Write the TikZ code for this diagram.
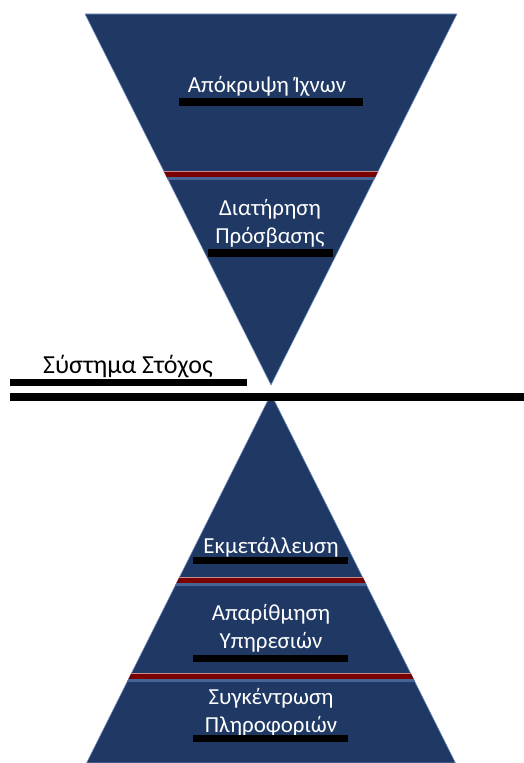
\documentclass[tikz,border=0pt]{standalone}
\usepackage{fontspec}
\setmainfont{Carlito}
\usetikzlibrary{positioning}

\definecolor{navy}{RGB}{31,56,100}
\definecolor{navyedge}{RGB}{120,150,200}
\definecolor{barred}{RGB}{122,0,0}
\definecolor{barpink}{RGB}{200,140,140}
\definecolor{stripblue}{RGB}{70,100,150}

\begin{document}
\begin{tikzpicture}[x=0.75pt, y=-0.75pt,
    funnel/.style={fill=navy, draw=navyedge, line width=0.4pt},
    stage/.style={font=\fontsize{17.2}{20.5}\selectfont, text=white, align=center, inner sep=0pt, anchor=base},
    redbar/.style={fill=barred, draw=barpink, line width=0.4pt},
    strip/.style={fill=stripblue},
    blackbar/.style={fill=black}
]
\useasboundingbox (0,0) rectangle (524,763);

% Upper funnel (post exploitation)
\draw[funnel] (85,14) -- (457,14) -- (271,385) -- cycle;
\begin{scope}
  \clip (85,14) -- (457,14) -- (271,385) -- cycle;
  \draw[redbar] (60,171) rectangle (480,177);
  \fill[strip] (60,177) rectangle (480,180);
\end{scope}
\node[stage] (hide) at (267,93) {Απόκρυψη Ίχνων};
\fill[blackbar] (179,98) rectangle (363,106);
\node[stage] (keep) at (270,243) {Διατήρηση\\Πρόσβασης};
\fill[blackbar] (208,249) rectangle (333,257);

% Target system line
\node[stage, text=black, font=\fontsize{19.5}{22}\selectfont] (target) at (128,373) {Σύστημα Στόχος};
\fill[blackbar] (10,379) rectangle (247,386);

% Lower pyramid (pre exploitation)
\draw[funnel] (271,394) -- (455.5,763) -- (86.5,763) -- cycle;
\begin{scope}
  \clip (271,394) -- (455.5,763) -- (86.5,763) -- cycle;
  \draw[redbar] (60,577) rectangle (480,583);
  \fill[strip] (60,583) rectangle (480,586);
  \draw[redbar] (60,673) rectangle (480,679);
  \fill[strip] (60,679) rectangle (480,682);
\end{scope}
\fill[blackbar] (10,393) rectangle (524,401);
\node[stage] (exploit) at (271,553) {Εκμετάλλευση};
\fill[blackbar] (193,557) rectangle (348,564);
\node[stage] (enum) at (271,648) {Απαρίθμηση\\Υπηρεσιών};
\fill[blackbar] (193,655) rectangle (348,662);
\node[stage] (gather) at (271,732) {Συγκέντρωση\\Πληροφοριών};
\fill[blackbar] (193,735) rectangle (348,742);

\end{tikzpicture}
\end{document}
